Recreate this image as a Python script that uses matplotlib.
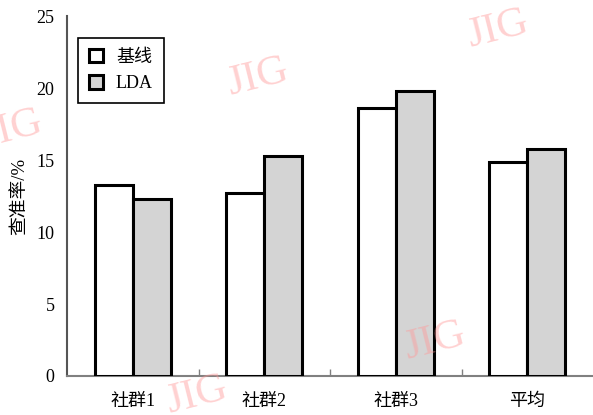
import numpy as np
import matplotlib.pyplot as plt
from matplotlib.patches import Patch

plt.rcParams['font.family'] = ['Liberation Serif', 'Noto Sans CJK SC', 'DejaVu Sans']

# precision per community, baseline vs LDA
groups = ['社群1', '社群2', '社群3', '平均']
baseline = [13.3, 12.7, 18.6, 14.9]
lda = [12.3, 15.3, 19.8, 15.8]
series_names = ['基线', 'LDA']
yticks = [0, 5, 10, 15, 20, 25]

fig = plt.figure(figsize=(5.93, 4.15), dpi=100)
ax = fig.add_axes([0.113, 0.094, 0.887, 0.867])

x = np.arange(len(groups))
w = 0.29
ax.bar(x - w / 2, baseline, w, color='white', edgecolor='black', linewidth=2.2, zorder=3)
ax.bar(x + w / 2, lda, w, color='#d4d4d4', edgecolor='black', linewidth=2.2, zorder=3)

ax.set_xlim(-0.5, len(groups) - 0.5)
ax.set_ylim(0, 25)
ax.set_yticks(yticks)
ax.set_xticks(x)
ax.set_xticklabels(groups)
ax.set_xticks(x[:-1] + 0.5, minor=True)

ax.tick_params(axis='x', which='major', length=0, pad=12, labelsize=13)
ax.tick_params(axis='x', which='minor', direction='in', length=5, width=1, color='#808080')
ax.tick_params(axis='y', length=0, pad=9, labelsize=13)

for s in ['top', 'right']:
    ax.spines[s].set_visible(False)
ax.spines['left'].set_color('#555555')
ax.spines['left'].set_linewidth(1.5)
ax.spines['bottom'].set_color('#808080')
ax.spines['bottom'].set_linewidth(1.5)

ax.set_ylabel('查准率/%', fontsize=13.5, labelpad=6)

handles = [Patch(facecolor='white', edgecolor='black', linewidth=2.2),
           Patch(facecolor='#d4d4d4', edgecolor='black', linewidth=2.2)]
leg = ax.legend(handles, series_names, loc='upper left', bbox_to_anchor=(0.021, 0.94),
                borderaxespad=0, fontsize=13, handlelength=0.8, handleheight=0.8,
                handletextpad=0.7, borderpad=0.6, labelspacing=0.5, fancybox=False,
                framealpha=1, edgecolor='black')
leg.get_frame().set_linewidth(1.2)

# journal watermark
marks = [(258, 78), (498, 30), (12, 130), (435, 342), (197, 396)]
for px, py in marks:
    fig.text(px / 593, 1 - py / 415, 'JIG', fontsize=31, color='#ff9999', alpha=0.45,
             rotation=14, ha='center', va='center', family='Liberation Serif', zorder=10)

fig.savefig('out.png', dpi=100)
